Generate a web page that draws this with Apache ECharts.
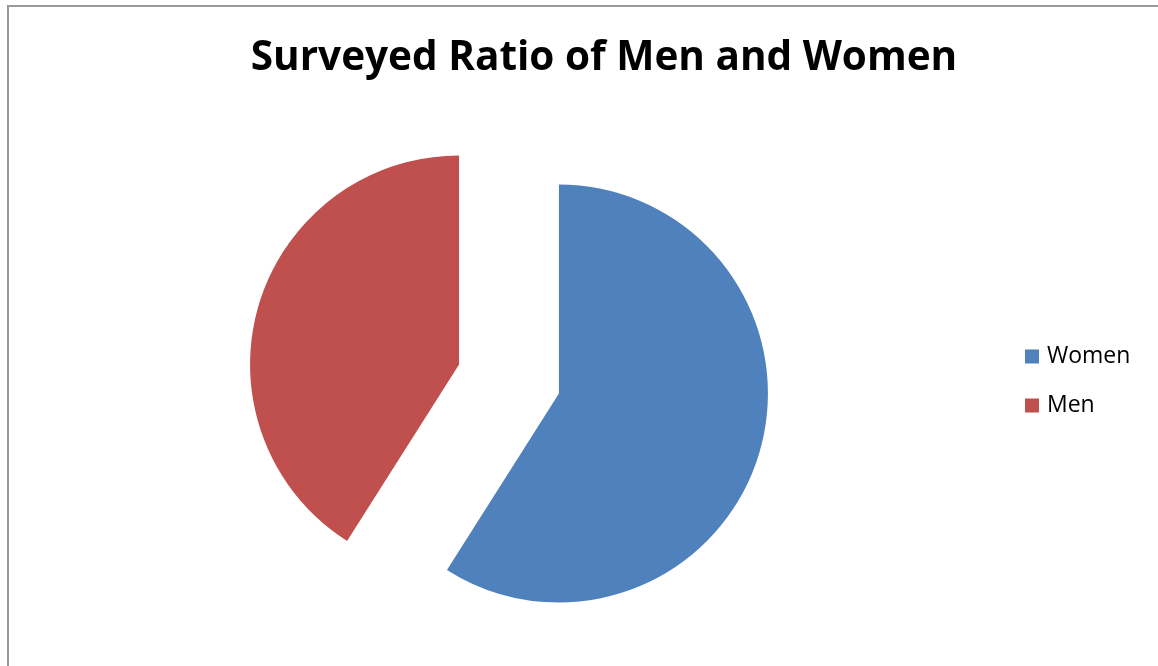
<!DOCTYPE html>
<html>
<head>
<meta charset="utf-8">
<title>Surveyed Ratio of Men and Women</title>
<script src="https://cdn.jsdelivr.net/npm/echarts@6/dist/echarts.min.js"></script>
<style>
  html, body { margin: 0; padding: 0; background: #fff; }
  #frame {
    position: absolute; left: 7px; top: 5px; width: 1160px; height: 680px;
    border-left: 2px solid #9a9a9a; border-top: 2px solid #9a9a9a;
    box-sizing: border-box;
  }
  #chart { position: absolute; left: 0; top: 0; width: 1158px; height: 666px; }
</style>
</head>
<body>
<div id="frame"></div>
<div id="chart"></div>
<script>
// Survey respondents by gender (percent)
const categories = ['Women', 'Men'];
const shares = [59, 41];
const colors = ['#4F81BD', '#C0504D'];

const chart = echarts.init(document.getElementById('chart'), null, { renderer: 'canvas' });

const pieData = categories.map((name, i) => ({
  name: name,
  value: shares[i],
  selected: true,
  itemStyle: { color: colors[i] }
}));

chart.setOption({
  backgroundColor: 'transparent',
  animation: false,
  title: {
    text: 'Surveyed Ratio of Men and Women',
    left: 599,
    top: 33,
    textAlign: 'center',
    textStyle: {
      fontFamily: 'Open Sans',
      fontWeight: 'bold',
      fontSize: 40.5,
      color: '#000'
    }
  },
  legend: {
    orient: 'vertical',
    left: 1020,
    top: 340,
    itemWidth: 14,
    itemHeight: 14,
    itemGap: 26,
    icon: 'rect',
    selectedMode: false,
    data: categories,
    textStyle: {
      fontFamily: 'Open Sans',
      fontSize: 23,
      color: '#000',
      padding: [0, 0, 0, 3]
    }
  },
  series: [{
    type: 'pie',
    center: [509, 379],
    radius: 209,
    startAngle: 90,
    clockwise: true,
    selectedMode: 'multiple',
    selectedOffset: 52,
    label: { show: false },
    labelLine: { show: false },
    emphasis: { disabled: true },
    select: { itemStyle: {} },
    data: pieData
  }]
});
</script>
</body>
</html>
